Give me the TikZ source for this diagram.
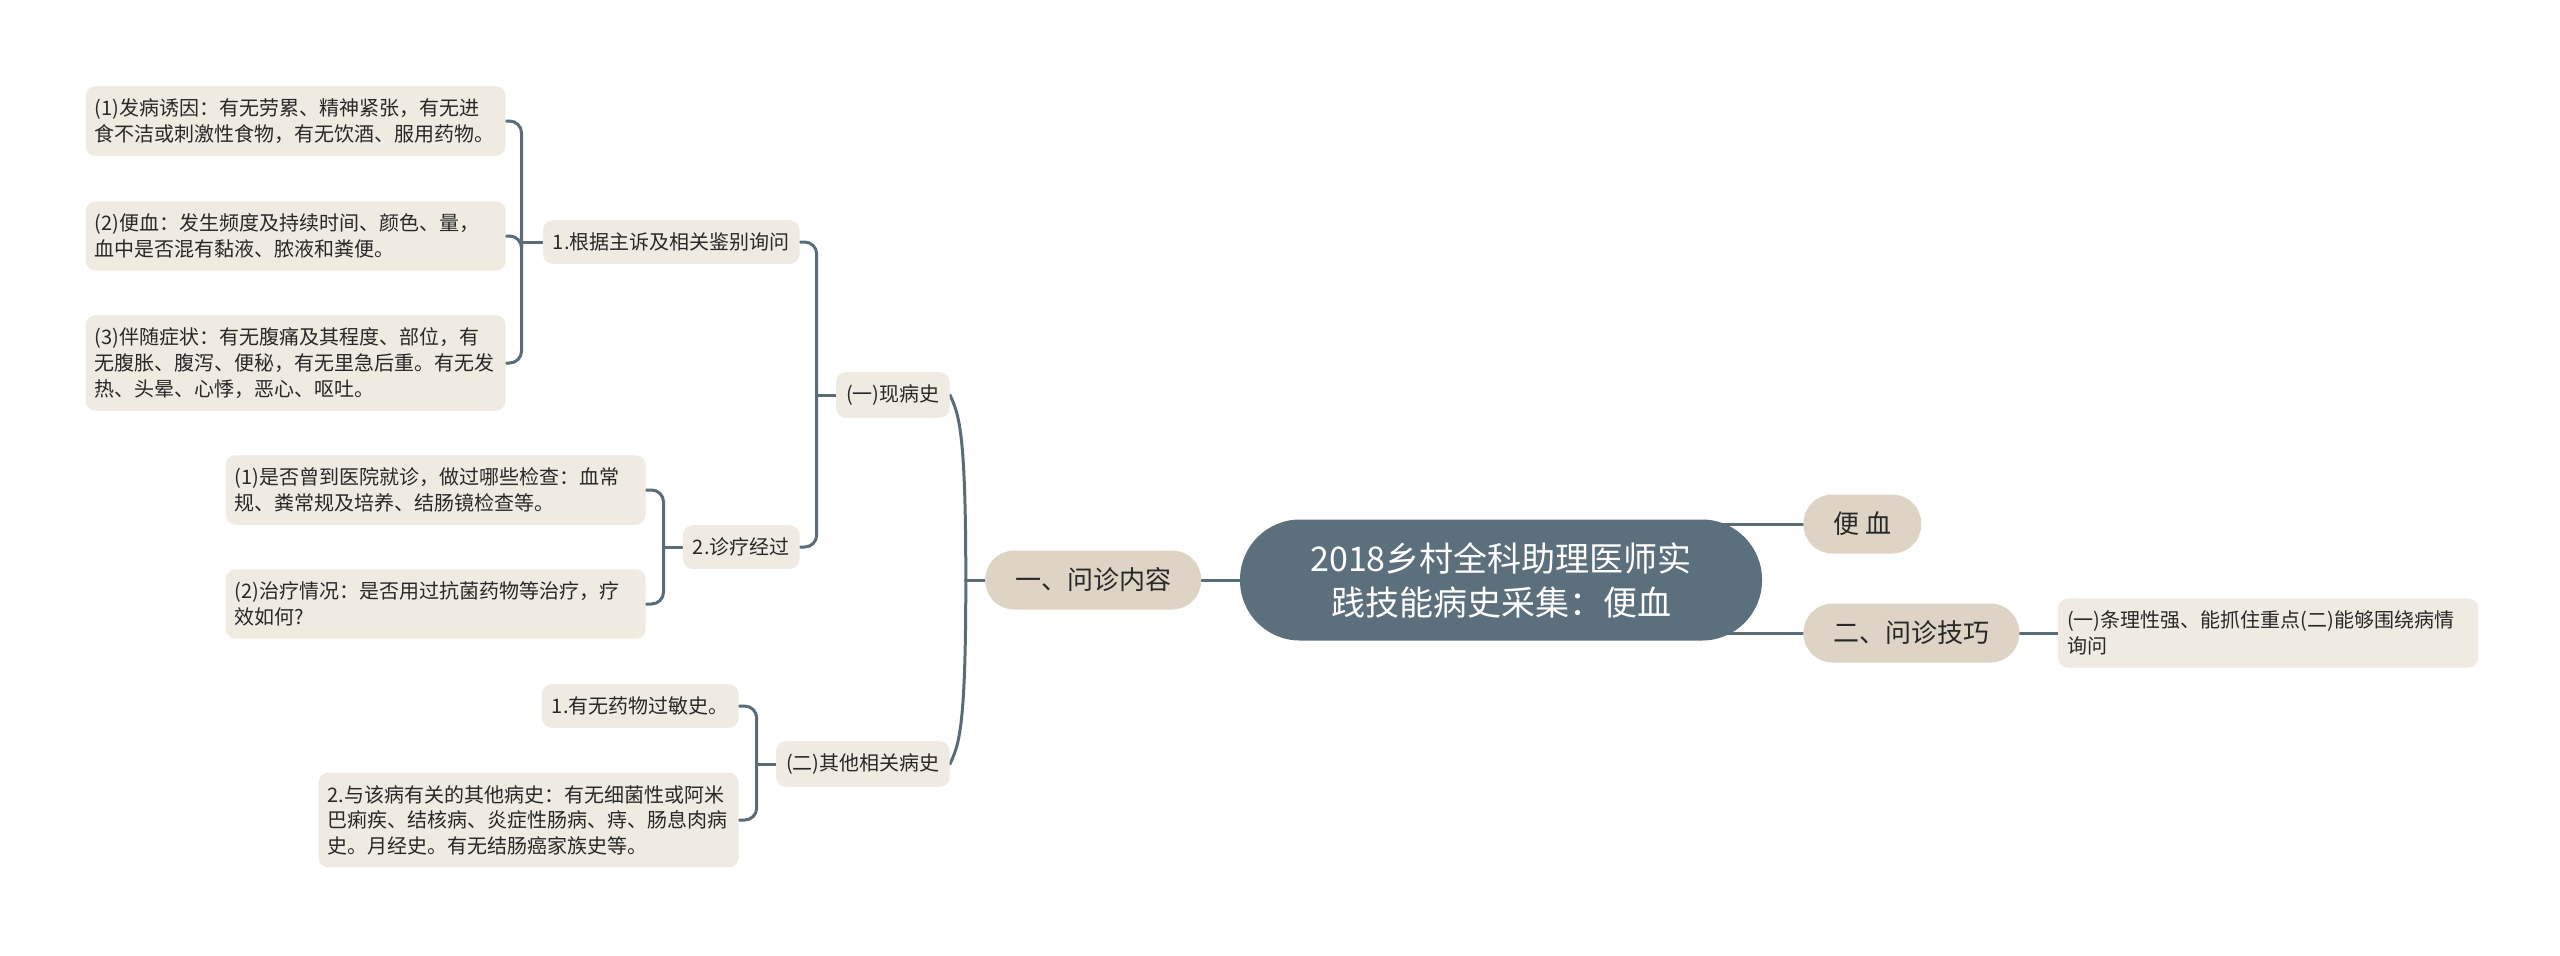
\documentclass[tikz,border=0pt]{standalone}
\usepackage{fontspec}
\setmainfont{Noto Sans CJK SC}
\usepackage{tikz}
\usetikzlibrary{positioning,backgrounds}
\definecolor{RootColor}{RGB}{92,111,124}
\definecolor{TopicColor}{RGB}{221,212,198}
\definecolor{LeafColor}{RGB}{239,235,227}
\definecolor{LineColor}{RGB}{90,108,120}
\definecolor{InkColor}{RGB}{40,40,40}

\begin{document}
\begin{tikzpicture}[x=0.5pt, y=-0.5pt, node distance=19pt,
    leaf/.style={fill=LeafColor, text=InkColor, rounded corners=5pt, align=left, inner xsep=5pt, inner ysep=6.3pt, font=\fontsize{10}{12.8}\selectfont},
    wide/.style={leaf, inner xsep=4.5pt, text width=201pt},
    topic/.style={fill=TopicColor, text=InkColor, rounded corners=14.5pt, minimum height=29.5pt, inner xsep=15pt, font=\fontsize{13}{16}\selectfont},
    root/.style={fill=RootColor, text=white, rounded corners=30pt, minimum width=261pt, minimum height=60.5pt, align=center, font=\fontsize{17}{22}\selectfont},
    link/.style={draw=LineColor, line width=1.5pt, line cap=round},
    elbow/.style={link, rounded corners=6pt}]
  % centre and first level
  \node[root] (root) at (1501,580) {2018乡村全科助理医师实\\践技能病史采集：便血};
  \node[topic, left=of root] (q1) {一、问诊内容};
  \node[topic, anchor=west] (bx) at (1803,524) {便 血};
  \node[topic, anchor=west] (q2) at (1803,633) {二、问诊技巧};
  \node[wide, right=of q2] (r1) {(一)条理性强、能抓住重点(二)能够围绕病情\\询问};
  % left branch
  \node[leaf, anchor=east] (h1) at (950,395) {(一)现病史};
  \node[leaf, anchor=east] (h2) at (950,764) {(二)其他相关病史};
  \node[leaf, anchor=east] (s1) at (800,242) {1.根据主诉及相关鉴别询问};
  \node[leaf, anchor=east] (s2) at (800,547) {2.诊疗经过};
  \node[wide, anchor=east] (a1) at (506,121) {(1)发病诱因：有无劳累、精神紧张，有无进\\食不洁或刺激性食物，有无饮酒、服用药物。};
  \node[wide, anchor=east] (a2) at (506,236) {(2)便血：发生频度及持续时间、颜色、量，\\血中是否混有黏液、脓液和粪便。};
  \node[wide, anchor=east] (a3) at (506,363) {(3)伴随症状：有无腹痛及其程度、部位，有\\无腹胀、腹泻、便秘，有无里急后重。有无发\\热、头晕、心悸，恶心、呕吐。};
  \node[wide, anchor=east] (b1) at (646,490) {(1)是否曾到医院就诊，做过哪些检查：血常\\规、粪常规及培养、结肠镜检查等。};
  \node[wide, anchor=east] (b2) at (646,604) {(2)治疗情况：是否用过抗菌药物等治疗，疗\\效如何?};
  \node[leaf, anchor=east] (c1) at (739,706) {1.有无药物过敏史。};
  \node[wide, anchor=east] (c2) at (739,820) {2.与该病有关的其他病史：有无细菌性或阿米\\巴痢疾、结核病、炎症性肠病、痔、肠息肉病\\史。月经史。有无结肠癌家族史等。};
  % connectors
  \begin{scope}[on background layer]
    \fill[white] (0,0) rectangle (2560,955);
    \draw[link] (root.west) -- (q1.east);
    \draw[link] (root.center |- bx.west) -- (bx.west);
    \draw[link] (root.center |- q2.west) -- (q2.west);
    \draw[link] (q2.east) -- (r1.west);
    \draw[link] (q1.west) -- ++(-19,0) coordinate (tq);
    \draw[link] (tq) .. controls +(0,-150) and +(9,20) .. (h1.east);
    \draw[link] (tq) .. controls +(0,150) and +(9,-20) .. (h2.east);
    \draw[link] (h1.west) -- ++(-19,0) coordinate (th1);
    \foreach \n in {s1,s2} \draw[elbow] (th1) |- (\n.east);
    \draw[link] (s1.west) -- ++(-21,0) coordinate (ts1);
    \foreach \n in {a1,a2,a3} \draw[elbow] (ts1) |- (\n.east);
    \draw[link] (s2.west) -- ++(-19,0) coordinate (ts2);
    \foreach \n in {b1,b2} \draw[elbow] (ts2) |- (\n.east);
    \draw[link] (h2.west) -- ++(-19,0) coordinate (th2);
    \foreach \n in {c1,c2} \draw[elbow] (th2) |- (\n.east);
  \end{scope}
  \useasboundingbox (0,0) rectangle (2560,955);
\end{tikzpicture}
\end{document}
